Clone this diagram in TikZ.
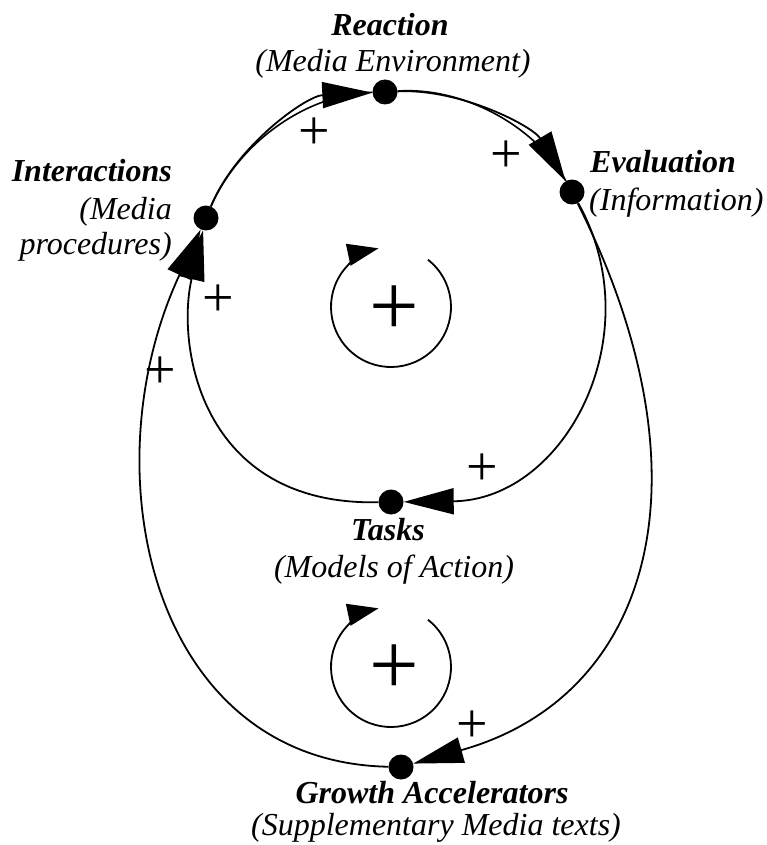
\documentclass[tikz,border=0pt]{standalone}
\usepackage{fontspec}
\setmainfont{Liberation Serif}
\usetikzlibrary{arrows.meta}
\begin{document}
\begin{tikzpicture}[x=1pt,y=-1pt,
  blob/.style={circle,fill=black,inner sep=0pt,minimum size=25pt},
  link/.style={line width=1.8pt,-{Triangle[length=50pt,width=26pt]}},
  edgeline/.style={line width=1.6pt},
  ttl/.style={font=\fontsize{32}{36}\selectfont\bfseries\itshape,inner sep=0pt},
  sub/.style={font=\fontsize{32}{36}\selectfont\itshape,inner sep=0pt},
  pl/.style={font=\fontsize{56}{56}\selectfont,inner sep=0pt},
  bigpl/.style={font=\fontsize{88}{88}\selectfont,inner sep=0pt},
  cyc/.style={line width=1.8pt,-{Triangle[length=31pt,width=22pt]}}]
\useasboundingbox (0,0) rectangle (766,845);

% dots
\node[blob] (react) at (385,92) {};
\node[blob] (eval) at (572,192) {};
\node[blob] (inter) at (206,218) {};
\node[blob] (tasks) at (391,502) {};
\node[blob] (growth) at (401,767) {};

% connectors
\draw[link] (inter) .. controls (236.5,145.2) and (306.2,95.9) .. (react);
\draw[edgeline] (inter) .. controls (238.5,143) and (306,94) .. (react);
\draw[link] (react) .. controls (460.8,88.3) and (533.3,126.7) .. (eval);
\draw[edgeline] (react) .. controls (461.5,86.5) and (535,125) .. (eval);
\draw[link] (eval) .. controls (652,335) and (565,500) .. (tasks);
\draw[link] (tasks) .. controls (200,506) and (176,345) .. (inter);
\draw[link] (eval) .. controls (716,480) and (651,697) .. (growth);
\draw[link] (growth) .. controls (151,762) and (88,471) .. (inter);

% labels
\node[ttl,anchor=base] (reactT) at (390,36) {Reaction};
\node[sub,anchor=base] (reactS) at (393,72) {(Media Environment)};
\node[ttl,anchor=base east] (interT) at (172,182) {Interactions};
\node[sub,anchor=base east] (interS1) at (172,219) {(Media};
\node[sub,anchor=base east] (interS2) at (172,254) {procedures)};
\node[ttl,anchor=base west] (evalT) at (590,173) {Evaluation};
\node[sub,anchor=base west] (evalS) at (589,210) {(Information)};
\node[ttl,anchor=base] (tasksT) at (388,540) {Tasks};
\node[sub,anchor=base] (tasksS) at (394,577) {(Models of Action)};
\node[ttl,anchor=base] (growthT) at (432,803) {Growth Accelerators};
\node[sub,anchor=base] (growthS) at (436,835) {(Supplementary Media texts)};

% polarity signs
\node[pl] (p1) at (314,134) {+};
\node[pl] (p2) at (506,157) {+};
\node[pl] (p3) at (218,301) {+};
\node[pl] (p4) at (160,373) {+};
\node[pl] (p5) at (482,470) {+};
\node[pl] (p6) at (472,727) {+};

% loop symbols
\node[bigpl] (loopA) at (394,311) {+};
\draw[cyc] (391,307) ++(52:60pt) arc[start angle=52,end angle=-258,radius=60pt];
\node[bigpl] (loopB) at (394,670) {+};
\draw[cyc] (391,667) ++(52:60pt) arc[start angle=52,end angle=-258,radius=60pt];
\end{tikzpicture}
\end{document}
